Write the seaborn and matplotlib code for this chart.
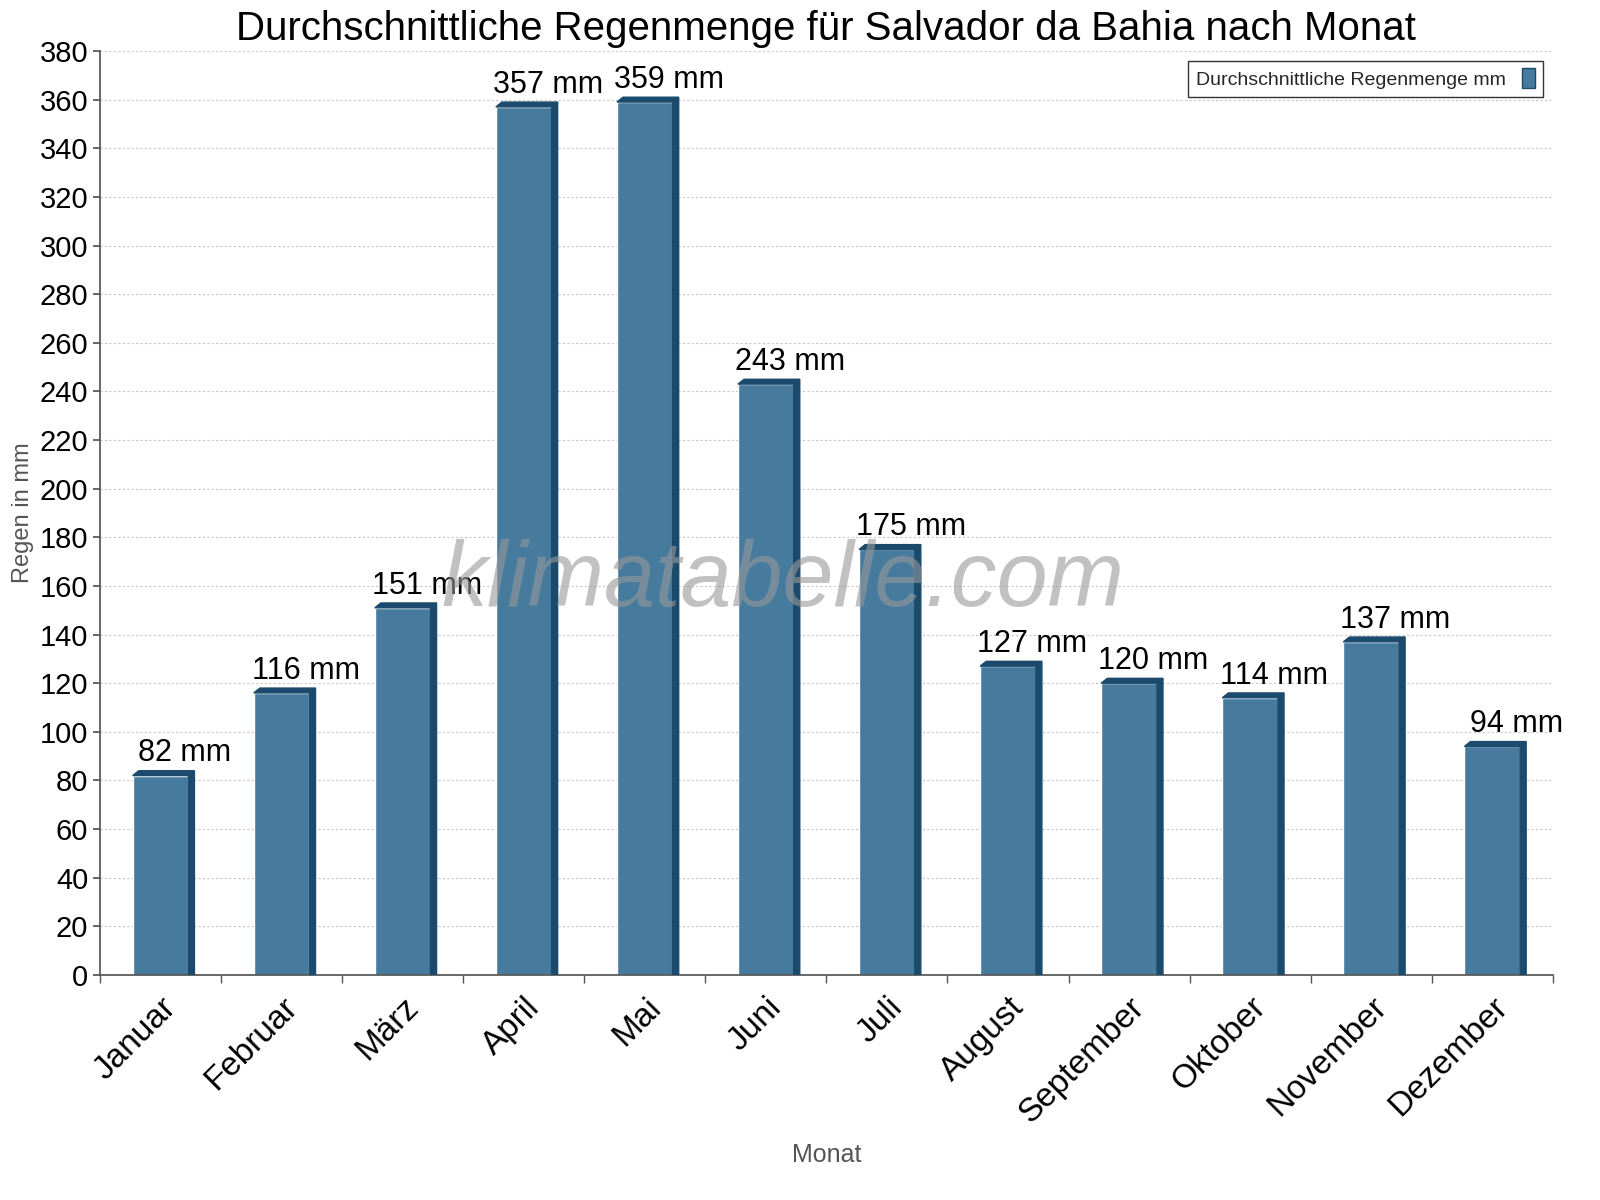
import matplotlib
matplotlib.use("Agg")
import matplotlib.pyplot as plt
import numpy as np
import pandas as pd
import seaborn as sns
from matplotlib.patches import Polygon

MONTHS = ["Januar", "Februar", "März", "April", "Mai", "Juni", "Juli",
          "August", "September", "Oktober", "November", "Dezember"]
RAIN_MM = [82, 116, 151, 357, 359, 243, 175, 127, 120, 114, 137, 94]
Y_TICKS = list(range(0, 381, 20))

FACE = "#467b9e"
SIDE = "#1b4a6c"

df = pd.DataFrame({"Monat": MONTHS, "Regen": RAIN_MM})

sns.set_theme(style="white", font="Liberation Sans")
fig = plt.figure(figsize=(16, 12), dpi=100)
ax = fig.add_axes([0.0625, 0.1875, 0.908, 0.77])

sns.barplot(data=df, x="Monat", y="Regen", color=FACE, width=0.46,
            saturation=1, ax=ax, label="Durchschnittliche Regenmenge mm")

# pseudo-3D side and top faces derived from bar geometry
dx, dy = 0.05, 2.0
for bar, val in zip(ax.patches, RAIN_MM):
    x0 = bar.get_x()
    x1 = x0 + bar.get_width()
    ax.add_patch(Polygon([(x1, 0), (x1 + dx, 0), (x1 + dx, val + dy), (x1, val)],
                         closed=True, color=SIDE, zorder=3))
    ax.add_patch(Polygon([(x0, val), (x0 + dx, val + dy), (x1 + dx, val + dy), (x1, val)],
                         closed=True, color=SIDE, zorder=3))
    ax.text(x0 + bar.get_width() / 2 + 0.2, val + dy + 1, f"{val} mm",
            ha="center", va="bottom", fontsize=22, color="black", zorder=5)

ax.set_xlim(-0.5, len(MONTHS) - 0.5)
ax.set_ylim(0, 380)
ax.set_yticks(Y_TICKS)
ax.tick_params(axis="y", labelsize=21, length=5, left=True, color="#555555", labelcolor="black")
ax.set_xticks(range(len(MONTHS)))
ax.set_xticklabels(MONTHS, rotation=45, ha="right", rotation_mode="anchor", fontsize=24)
ax.tick_params(axis="x", length=0, pad=12, labelcolor="black")
ax.set_xticks(np.arange(-0.5, len(MONTHS), 1), minor=True)
ax.tick_params(axis="x", which="minor", length=6, bottom=True, color="#555555")
ax.yaxis.grid(True, linestyle=(0, (2, 2)), color="#c8c8c8", linewidth=0.8)
ax.set_axisbelow(True)
for s in ["top", "right"]:
    ax.spines[s].set_visible(False)
for s in ["left", "bottom"]:
    ax.spines[s].set_color("#555555")

ax.set_xlabel("Monat", fontsize=18, color="#555555", labelpad=10)
ax.set_ylabel("Regen in mm", fontsize=17, color="#555555")
ax.set_title("Durchschnittliche Regenmenge für Salvador da Bahia nach Monat",
             fontsize=29, pad=8, color="black")

ax.text(0.47, 0.425, "klimatabelle.com", transform=ax.transAxes, fontsize=66,
        style="italic", color="#999999", alpha=0.6, ha="center", va="center", zorder=6)

leg = ax.legend(loc="upper right", fontsize=14, frameon=True, fancybox=False,
                markerfirst=False, handlelength=0.7, handleheight=1.2,
                bbox_to_anchor=(1.0, 1.0))
leg.get_frame().set_edgecolor("black")
for h in leg.legend_handles:
    h.set_edgecolor(SIDE)

fig.savefig("out.png", dpi=100)
